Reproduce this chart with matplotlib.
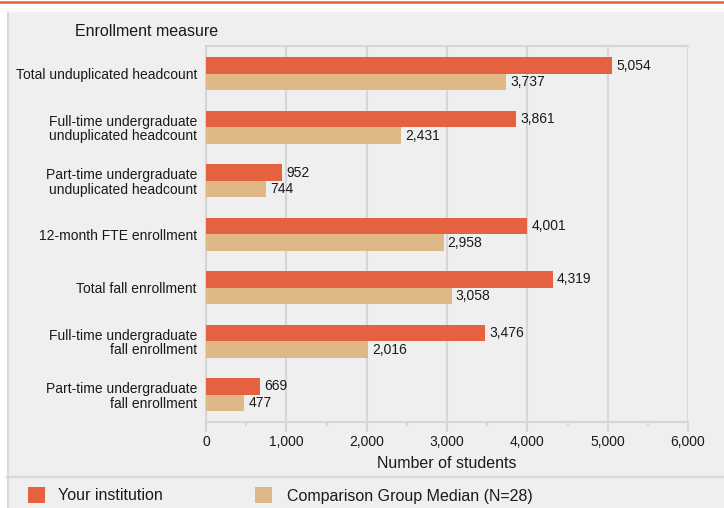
import matplotlib
matplotlib.use('Agg')
import matplotlib.pyplot as plt
from matplotlib.patches import Rectangle
from matplotlib.lines import Line2D
from matplotlib.ticker import MultipleLocator, FuncFormatter
import numpy as np

plt.rcParams['font.family'] = ['Liberation Sans', 'DejaVu Sans']

categories = ['Total unduplicated headcount',
              'Full-time undergraduate\nunduplicated headcount',
              'Part-time undergraduate\nunduplicated headcount',
              '12-month FTE enrollment',
              'Total fall enrollment',
              'Full-time undergraduate\nfall enrollment',
              'Part-time undergraduate\nfall enrollment']
yours = [5054, 3861, 952, 4001, 4319, 3476, 669]
median = [3737, 2431, 744, 2958, 3058, 2016, 477]
series_names = ['Your institution', 'Comparison Group Median (N=28)']

c_orange = '#E4623F'
c_tan = '#DEB887'
bg = '#EFEFEF'
grid_c = '#D6D6D6'
txt = '#1A1A1A'
W, H = 724, 508

fig = plt.figure(figsize=(W / 100, H / 100), dpi=100, facecolor='white')

# panel background and decorations
fig.add_artist(Rectangle((7 / W, 0), 1 - 7 / W, (H - 12) / H, transform=fig.transFigure,
                         facecolor=bg, edgecolor='none', zorder=0))
fig.add_artist(Line2D([7.5 / W, 7.5 / W], [0, (H - 12) / H], transform=fig.transFigure,
                      color='#D8D8D8', lw=1.2))
fig.add_artist(Line2D([0, 1], [1 - 1.5 / H, 1 - 1.5 / H], transform=fig.transFigure,
                      color=c_orange, lw=1.8))
fig.add_artist(Line2D([7 / W, 1], [1 - 476.5 / H, 1 - 476.5 / H], transform=fig.transFigure,
                      color='#D8D8D8', lw=1.6))

ax = fig.add_axes([206 / W, 1 - 421.5 / H, (688 - 206) / W, (421.5 - 45.5) / H])
ax.set_facecolor(bg)

y = np.arange(len(categories))
h = 0.31
ax.barh(y - h / 2, yours, height=h, color=c_orange, zorder=3)
ax.barh(y + h / 2, median, height=h, color=c_tan, zorder=3)
for yi, v in zip(y, yours):
    ax.text(v + 50, yi - h / 2, f'{v:,}', va='center', ha='left', fontsize=10, color=txt)
for yi, v in zip(y, median):
    ax.text(v + 50, yi + h / 2, f'{v:,}', va='center', ha='left', fontsize=10, color=txt)

ax.set_xlim(0, 6000)
ax.set_ylim(len(categories) - 0.5, -0.53)
ax.set_yticks(y)
ax.set_yticklabels(categories, fontsize=10, color=txt, linespacing=1.05)
ax.tick_params(axis='y', length=0, pad=6.5)
ax.xaxis.set_major_locator(MultipleLocator(1000))
ax.xaxis.set_minor_locator(MultipleLocator(500))
ax.xaxis.set_major_formatter(FuncFormatter(lambda v, p: f'{int(v):,}'))
ax.tick_params(axis='x', which='major', length=7, width=1.5, color=grid_c,
               labelsize=10, labelcolor=txt, pad=3)
ax.tick_params(axis='x', which='minor', length=3, width=1.5, color=grid_c)
ax.grid(axis='x', color=grid_c, lw=1.5, zorder=0)
for s in ['left', 'top', 'bottom']:
    ax.spines[s].set_color(grid_c)
    ax.spines[s].set_linewidth(1.5)
ax.spines['right'].set_visible(False)
ax.set_xlabel('Number of students', fontsize=11.5, color=txt, labelpad=5)

fig.text(75 / W, 1 - 32 / H, 'Enrollment measure', fontsize=11.5, color=txt,
         va='center', ha='left')

# legend
for x0, x1, col, name in [(28, 58, c_orange, series_names[0]),
                          (255, 287, c_tan, series_names[1])]:
    fig.add_artist(Rectangle((x0 / W, 1 - 503 / H), 17 / W, 16 / H, transform=fig.transFigure,
                             facecolor=col, edgecolor='none'))
    fig.text(x1 / W, 1 - 496 / H, name, fontsize=11.5, color=txt,
             va='center', ha='left')

fig.savefig('out.png', dpi=100)
